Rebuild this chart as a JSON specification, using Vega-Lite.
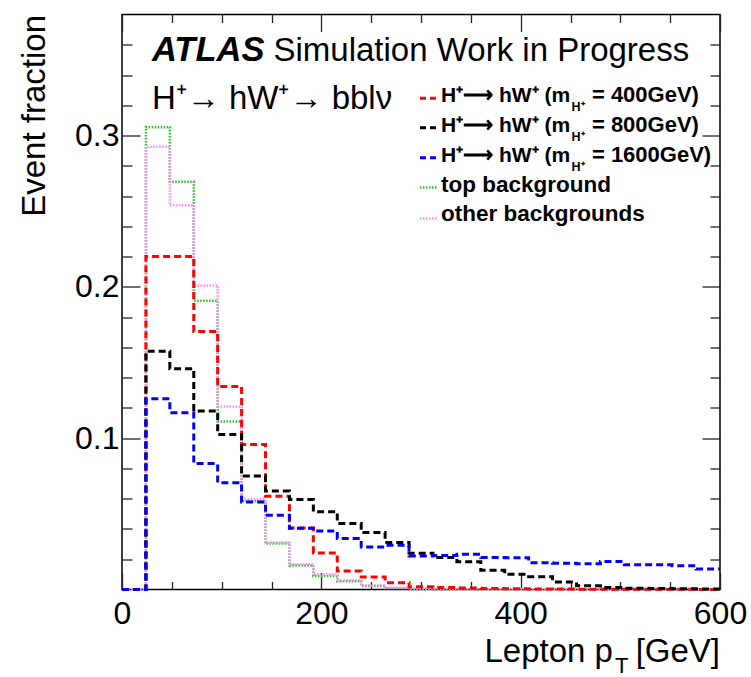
{
"$schema": "https://vega.github.io/schema/vega-lite/v6.json",
"width": 598, "height": 575,
"autosize": {"type": "none"},
"padding": {"left": 122, "top": 14.5, "right": 31, "bottom": 87.5},
"background": "white",
"config": {"view": {"stroke": "black", "strokeWidth": 1.5}, "font": "Liberation Sans", "text": {"color": "black"}},
"datasets": {"h": [
{"s":"top","lo":0,"hi":24,"v":0},{"s":"top","lo":24,"hi":48,"v":0.3055},{"s":"top","lo":48,"hi":72,"v":0.2695},{"s":"top","lo":72,"hi":96,"v":0.1908},{"s":"top","lo":96,"hi":120,"v":0.1111},{"s":"top","lo":120,"hi":144,"v":0.0583},{"s":"top","lo":144,"hi":168,"v":0.0304},{"s":"top","lo":168,"hi":192,"v":0.0158},{"s":"top","lo":192,"hi":216,"v":0.0089},{"s":"top","lo":216,"hi":240,"v":0.0054},{"s":"top","lo":240,"hi":264,"v":0.0023},{"s":"top","lo":264,"hi":288,"v":0.0008},{"s":"top","lo":288,"hi":312,"v":0.0004},{"s":"top","lo":312,"hi":336,"v":0.0002},{"s":"top","lo":336,"hi":360,"v":0.0002},{"s":"top","lo":360,"hi":384,"v":0.0001},{"s":"top","lo":384,"hi":408,"v":0.0001},{"s":"top","lo":408,"hi":432,"v":0},{"s":"top","lo":432,"hi":456,"v":0},{"s":"top","lo":456,"hi":480,"v":0},{"s":"top","lo":480,"hi":504,"v":0},{"s":"top","lo":504,"hi":528,"v":0},{"s":"top","lo":528,"hi":552,"v":0},{"s":"top","lo":552,"hi":576,"v":0},{"s":"top","lo":576,"hi":600,"v":0},
{"s":"other","lo":0,"hi":24,"v":0},{"s":"other","lo":24,"hi":48,"v":0.2926},{"s":"other","lo":48,"hi":72,"v":0.254},{"s":"other","lo":72,"hi":96,"v":0.2009},{"s":"other","lo":96,"hi":120,"v":0.121},{"s":"other","lo":120,"hi":144,"v":0.0596},{"s":"other","lo":144,"hi":168,"v":0.031},{"s":"other","lo":168,"hi":192,"v":0.0167},{"s":"other","lo":192,"hi":216,"v":0.0101},{"s":"other","lo":216,"hi":240,"v":0.006},{"s":"other","lo":240,"hi":264,"v":0.0027},{"s":"other","lo":264,"hi":288,"v":0.0012},{"s":"other","lo":288,"hi":312,"v":0.0006},{"s":"other","lo":312,"hi":336,"v":0.0003},{"s":"other","lo":336,"hi":360,"v":0.0002},{"s":"other","lo":360,"hi":384,"v":0.0001},{"s":"other","lo":384,"hi":408,"v":0.0001},{"s":"other","lo":408,"hi":432,"v":0},{"s":"other","lo":432,"hi":456,"v":0},{"s":"other","lo":456,"hi":480,"v":0},{"s":"other","lo":480,"hi":504,"v":0},{"s":"other","lo":504,"hi":528,"v":0},{"s":"other","lo":528,"hi":552,"v":0},{"s":"other","lo":552,"hi":576,"v":0},{"s":"other","lo":576,"hi":600,"v":0},
{"s":"m400","lo":0,"hi":24,"v":0},{"s":"m400","lo":24,"hi":48,"v":0.22},{"s":"m400","lo":48,"hi":72,"v":0.22},{"s":"m400","lo":72,"hi":96,"v":0.1705},{"s":"m400","lo":96,"hi":120,"v":0.1342},{"s":"m400","lo":120,"hi":144,"v":0.0958},{"s":"m400","lo":144,"hi":168,"v":0.0616},{"s":"m400","lo":168,"hi":192,"v":0.0406},{"s":"m400","lo":192,"hi":216,"v":0.0242},{"s":"m400","lo":216,"hi":240,"v":0.0122},{"s":"m400","lo":240,"hi":264,"v":0.0082},{"s":"m400","lo":264,"hi":288,"v":0.0045},{"s":"m400","lo":288,"hi":312,"v":0.0018},{"s":"m400","lo":312,"hi":336,"v":0.0013},{"s":"m400","lo":336,"hi":360,"v":0.001},{"s":"m400","lo":360,"hi":384,"v":0.0007},{"s":"m400","lo":384,"hi":408,"v":0.0005},{"s":"m400","lo":408,"hi":432,"v":0.0004},{"s":"m400","lo":432,"hi":456,"v":0.0003},{"s":"m400","lo":456,"hi":480,"v":0.0002},{"s":"m400","lo":480,"hi":504,"v":0.0002},{"s":"m400","lo":504,"hi":528,"v":0.0001},{"s":"m400","lo":528,"hi":552,"v":0.0001},{"s":"m400","lo":552,"hi":576,"v":0.0001},{"s":"m400","lo":576,"hi":600,"v":0},
{"s":"m800","lo":0,"hi":24,"v":0},{"s":"m800","lo":24,"hi":48,"v":0.1575},{"s":"m800","lo":48,"hi":72,"v":0.1459},{"s":"m800","lo":72,"hi":96,"v":0.1179},{"s":"m800","lo":96,"hi":120,"v":0.1024},{"s":"m800","lo":120,"hi":144,"v":0.075},{"s":"m800","lo":144,"hi":168,"v":0.0651},{"s":"m800","lo":168,"hi":192,"v":0.0595},{"s":"m800","lo":192,"hi":216,"v":0.0514},{"s":"m800","lo":216,"hi":240,"v":0.0436},{"s":"m800","lo":240,"hi":264,"v":0.0377},{"s":"m800","lo":264,"hi":288,"v":0.031},{"s":"m800","lo":288,"hi":312,"v":0.024},{"s":"m800","lo":312,"hi":336,"v":0.0211},{"s":"m800","lo":336,"hi":360,"v":0.0184},{"s":"m800","lo":360,"hi":384,"v":0.0127},{"s":"m800","lo":384,"hi":408,"v":0.01},{"s":"m800","lo":408,"hi":432,"v":0.0085},{"s":"m800","lo":432,"hi":456,"v":0.005},{"s":"m800","lo":456,"hi":480,"v":0.0025},{"s":"m800","lo":480,"hi":504,"v":0.0013},{"s":"m800","lo":504,"hi":528,"v":0.0008},{"s":"m800","lo":528,"hi":552,"v":0.0006},{"s":"m800","lo":552,"hi":576,"v":0.0005},{"s":"m800","lo":576,"hi":600,"v":0.0004},
{"s":"m1600","lo":0,"hi":24,"v":0},{"s":"m1600","lo":24,"hi":48,"v":0.126},{"s":"m1600","lo":48,"hi":72,"v":0.1168},{"s":"m1600","lo":72,"hi":96,"v":0.0832},{"s":"m1600","lo":96,"hi":120,"v":0.0705},{"s":"m1600","lo":120,"hi":144,"v":0.0578},{"s":"m1600","lo":144,"hi":168,"v":0.049},{"s":"m1600","lo":168,"hi":192,"v":0.0405},{"s":"m1600","lo":192,"hi":216,"v":0.0387},{"s":"m1600","lo":216,"hi":240,"v":0.0337},{"s":"m1600","lo":240,"hi":264,"v":0.0281},{"s":"m1600","lo":264,"hi":288,"v":0.0292},{"s":"m1600","lo":288,"hi":312,"v":0.0221},{"s":"m1600","lo":312,"hi":336,"v":0.0225},{"s":"m1600","lo":336,"hi":360,"v":0.0233},{"s":"m1600","lo":360,"hi":384,"v":0.0211},{"s":"m1600","lo":384,"hi":408,"v":0.021},{"s":"m1600","lo":408,"hi":432,"v":0.0177},{"s":"m1600","lo":432,"hi":456,"v":0.0174},{"s":"m1600","lo":456,"hi":480,"v":0.0171},{"s":"m1600","lo":480,"hi":504,"v":0.0185},{"s":"m1600","lo":504,"hi":528,"v":0.0163},{"s":"m1600","lo":528,"hi":552,"v":0.0163},{"s":"m1600","lo":552,"hi":576,"v":0.0157},{"s":"m1600","lo":576,"hi":600,"v":0.0136}
]},
"layer": [
 {"data": {"name": "h"},
  "transform": [{"filter": "datum.s === 'top'"}, {"fold": ["lo", "hi"], "as": ["k", "edge"]}],
  "mark": {"type": "line", "stroke": "#33bb33", "strokeWidth": 2.5, "strokeDash": [1.5, 1.5]},
  "encoding": {
   "x": {"field": "edge", "type": "quantitative", "scale": {"domain": [0, 600], "nice": false, "zero": false},
    "axis": {"orient": "bottom", "values": [0,50,100,150,200,250,300,350,400,450,500,550,600], "format": "d",
     "labelExpr": "datum.value % 200 === 0 ? datum.label : ''",
     "tickSize": {"condition": {"test": "datum.value % 200 === 0", "value": -17}, "value": -8},
     "tickColor": "#222222", "tickWidth": 1.3, "labelFontSize": 32, "labelFont": "Liberation Sans", "labelColor": "black",
     "labelPadding": 26, "labelFlush": false, "labelOverlap": false, "labelBound": false, "domain": false, "grid": false, "title": null}},
   "y": {"field": "v", "type": "quantitative", "scale": {"domain": [0, 0.38], "nice": false},
    "axis": {"orient": "left", "values": [0.02,0.04,0.06,0.08,0.1,0.12,0.14,0.16,0.18,0.2,0.22,0.24,0.26,0.28,0.3,0.32,0.34,0.36],
     "labelExpr": "abs(datum.value*10 - round(datum.value*10)) < 1e-6 ? format(datum.value, '.1f') : ''",
     "tickSize": {"condition": {"test": "abs(datum.value*10 - round(datum.value*10)) < 1e-6", "value": -18}, "value": -10},
     "tickColor": "#222222", "tickWidth": 1.3, "labelFontSize": 32, "labelFont": "Liberation Sans", "labelColor": "black",
     "labelPadding": 21, "labelOverlap": false, "labelBound": false, "domain": false, "grid": false,
     "title": "Event fraction", "titleFont": "Liberation Sans", "titleFontSize": 33, "titleFontWeight": "normal", "titleColor": "black",
     "titleAngle": -90, "titleAlign": "right", "titleBaseline": "middle", "titleAnchor": "end", "titleX": -88, "titleY": 0}},
   "order": [{"field": "edge", "type": "quantitative"}, {"field": "k", "type": "nominal"}]}},
 {"data": {"name": "h"},
  "transform": [{"filter": "datum.s === 'other'"}, {"fold": ["lo", "hi"], "as": ["k", "edge"]}],
  "mark": {"type": "line", "stroke": "#ff88ff", "strokeWidth": 2.5, "strokeDash": [1.5, 1.5]},
  "encoding": {
   "x": {"field": "edge", "type": "quantitative", "scale": {"domain": [0, 600], "nice": false, "zero": false}, "axis": null},
   "y": {"field": "v", "type": "quantitative", "scale": {"domain": [0, 0.38], "nice": false}, "axis": null},
   "order": [{"field": "edge", "type": "quantitative"}, {"field": "k", "type": "nominal"}]}},
 {"data": {"name": "h"},
  "transform": [{"filter": "datum.s === 'm400'"}, {"fold": ["lo", "hi"], "as": ["k", "edge"]}],
  "mark": {"type": "line", "stroke": "#ff0000", "strokeWidth": 3, "strokeDash": [7, 4]},
  "encoding": {
   "x": {"field": "edge", "type": "quantitative", "scale": {"domain": [0, 600], "nice": false, "zero": false}, "axis": null},
   "y": {"field": "v", "type": "quantitative", "scale": {"domain": [0, 0.38], "nice": false}, "axis": null},
   "order": [{"field": "edge", "type": "quantitative"}, {"field": "k", "type": "nominal"}]}},
 {"data": {"name": "h"},
  "transform": [{"filter": "datum.s === 'm800'"}, {"fold": ["lo", "hi"], "as": ["k", "edge"]}],
  "mark": {"type": "line", "stroke": "#000000", "strokeWidth": 3, "strokeDash": [7, 4]},
  "encoding": {
   "x": {"field": "edge", "type": "quantitative", "scale": {"domain": [0, 600], "nice": false, "zero": false}, "axis": null},
   "y": {"field": "v", "type": "quantitative", "scale": {"domain": [0, 0.38], "nice": false}, "axis": null},
   "order": [{"field": "edge", "type": "quantitative"}, {"field": "k", "type": "nominal"}]}},
 {"data": {"name": "h"},
  "transform": [{"filter": "datum.s === 'm1600'"}, {"fold": ["lo", "hi"], "as": ["k", "edge"]}],
  "mark": {"type": "line", "stroke": "#0000ff", "strokeWidth": 3, "strokeDash": [7, 4]},
  "encoding": {
   "x": {"field": "edge", "type": "quantitative", "scale": {"domain": [0, 600], "nice": false, "zero": false}, "axis": null},
   "y": {"field": "v", "type": "quantitative", "scale": {"domain": [0, 0.38], "nice": false}, "axis": null},
   "order": [{"field": "edge", "type": "quantitative"}, {"field": "k", "type": "nominal"}]}},

 {"data": {"values": [{}]}, "mark": {"type": "text", "text": "ATLAS", "fontSize": 34.5, "fontWeight": "bold", "fontStyle": "italic", "align": "left", "baseline": "alphabetic"},
  "encoding": {"x": {"datum": 30.1, "type": "quantitative", "scale": {"domain": [0, 600], "nice": false, "zero": false}, "axis": null}, "y": {"datum": 0.3494, "type": "quantitative", "scale": {"domain": [0, 0.38], "nice": false}, "axis": null}}},
 {"data": {"values": [{}]}, "mark": {"type": "text", "text": "Simulation Work in Progress", "fontSize": 33, "align": "left", "baseline": "alphabetic"},
  "encoding": {"x": {"datum": 152.0, "type": "quantitative", "scale": {"domain": [0, 600], "nice": false, "zero": false}, "axis": null}, "y": {"datum": 0.3494, "type": "quantitative", "scale": {"domain": [0, 0.38], "nice": false}, "axis": null}}},
 {"data": {"values": [{}]}, "mark": {"type": "text", "text": "H⁺→ hW⁺→ bblν", "fontSize": 33, "align": "left", "baseline": "alphabetic"},
  "encoding": {"x": {"datum": 30.1, "type": "quantitative", "scale": {"domain": [0, 600], "nice": false, "zero": false}, "axis": null}, "y": {"datum": 0.3174, "type": "quantitative", "scale": {"domain": [0, 0.38], "nice": false}, "axis": null}}},

 {"data": {"values": [{}]}, "mark": {"type": "rule", "stroke": "#ff0000", "strokeWidth": 3, "strokeDash": [6, 4]},
  "encoding": {"x": {"datum": 299, "type": "quantitative", "scale": {"domain": [0, 600], "nice": false, "zero": false}, "axis": null}, "x2": {"datum": 315}, "y": {"datum": 0.3246, "type": "quantitative", "scale": {"domain": [0, 0.38], "nice": false}, "axis": null}}},
 {"data": {"values": [{}]}, "mark": {"type": "rule", "stroke": "#000000", "strokeWidth": 3, "strokeDash": [6, 4]},
  "encoding": {"x": {"datum": 299, "type": "quantitative", "scale": {"domain": [0, 600], "nice": false, "zero": false}, "axis": null}, "x2": {"datum": 315}, "y": {"datum": 0.3052, "type": "quantitative", "scale": {"domain": [0, 0.38], "nice": false}, "axis": null}}},
 {"data": {"values": [{}]}, "mark": {"type": "rule", "stroke": "#0000ff", "strokeWidth": 3, "strokeDash": [6, 4]},
  "encoding": {"x": {"datum": 299, "type": "quantitative", "scale": {"domain": [0, 600], "nice": false, "zero": false}, "axis": null}, "x2": {"datum": 315}, "y": {"datum": 0.2854, "type": "quantitative", "scale": {"domain": [0, 0.38], "nice": false}, "axis": null}}},
 {"data": {"values": [{}]}, "mark": {"type": "rule", "stroke": "#33bb33", "strokeWidth": 2.5, "strokeDash": [1.5, 1.5]},
  "encoding": {"x": {"datum": 299, "type": "quantitative", "scale": {"domain": [0, 600], "nice": false, "zero": false}, "axis": null}, "x2": {"datum": 317}, "y": {"datum": 0.2657, "type": "quantitative", "scale": {"domain": [0, 0.38], "nice": false}, "axis": null}}},
 {"data": {"values": [{}]}, "mark": {"type": "rule", "stroke": "#ff88ff", "strokeWidth": 2.5, "strokeDash": [1.5, 1.5]},
  "encoding": {"x": {"datum": 299, "type": "quantitative", "scale": {"domain": [0, 600], "nice": false, "zero": false}, "axis": null}, "x2": {"datum": 317}, "y": {"datum": 0.2452, "type": "quantitative", "scale": {"domain": [0, 0.38], "nice": false}, "axis": null}}},

 {"data": {"values": [{"t": "H⁺⟶ hW⁺ (m", "y": 0.322}, {"t": "H⁺⟶ hW⁺ (m", "y": 0.3022}, {"t": "H⁺⟶ hW⁺ (m", "y": 0.2824}]},
  "mark": {"type": "text", "fontSize": 21, "fontWeight": "bold", "align": "left", "baseline": "alphabetic"},
  "encoding": {"x": {"datum": 320.1, "type": "quantitative", "scale": {"domain": [0, 600], "nice": false, "zero": false}, "axis": null}, "y": {"field": "y", "type": "quantitative", "scale": {"domain": [0, 0.38], "nice": false}, "axis": null}, "text": {"field": "t"}}},
 {"data": {"values": [{"t": "top background", "y": 0.2624}, {"t": "other backgrounds", "y": 0.2433}]},
  "mark": {"type": "text", "fontSize": 22.5, "fontWeight": "bold", "align": "left", "baseline": "alphabetic"},
  "encoding": {"x": {"datum": 320.1, "type": "quantitative", "scale": {"domain": [0, 600], "nice": false, "zero": false}, "axis": null}, "y": {"field": "y", "type": "quantitative", "scale": {"domain": [0, 0.38], "nice": false}, "axis": null}, "text": {"field": "t"}}},
 {"data": {"values": [{"t": "H⁺", "y": 0.3162}, {"t": "H⁺", "y": 0.2964}, {"t": "H⁺", "y": 0.2766}]},
  "mark": {"type": "text", "fontSize": 12.5, "fontWeight": "bold", "align": "left", "baseline": "alphabetic"},
  "encoding": {"x": {"datum": 451, "type": "quantitative", "scale": {"domain": [0, 600], "nice": false, "zero": false}, "axis": null}, "y": {"field": "y", "type": "quantitative", "scale": {"domain": [0, 0.38], "nice": false}, "axis": null}, "text": {"field": "t"}}},
 {"data": {"values": [{"t": "= 400GeV)", "y": 0.322}, {"t": "= 800GeV)", "y": 0.3022}, {"t": "= 1600GeV)", "y": 0.2824}]},
  "mark": {"type": "text", "fontSize": 22, "fontWeight": "bold", "align": "left", "baseline": "alphabetic"},
  "encoding": {"x": {"datum": 471.5, "type": "quantitative", "scale": {"domain": [0, 600], "nice": false, "zero": false}, "axis": null}, "y": {"field": "y", "type": "quantitative", "scale": {"domain": [0, 0.38], "nice": false}, "axis": null}, "text": {"field": "t"}}},

 {"data": {"values": [{}]}, "mark": {"type": "text", "text": "Lepton p", "fontSize": 33, "align": "right", "baseline": "alphabetic"},
  "encoding": {"x": {"datum": 492.6, "type": "quantitative", "scale": {"domain": [0, 600], "nice": false, "zero": false}, "axis": null}, "y": {"datum": -0.048, "type": "quantitative", "scale": {"domain": [0, 0.38], "nice": false}, "axis": null}}},
 {"data": {"values": [{}]}, "mark": {"type": "text", "text": "T", "fontSize": 22, "align": "left", "baseline": "alphabetic"},
  "encoding": {"x": {"datum": 494.6, "type": "quantitative", "scale": {"domain": [0, 600], "nice": false, "zero": false}, "axis": null}, "y": {"datum": -0.0552, "type": "quantitative", "scale": {"domain": [0, 0.38], "nice": false}, "axis": null}}},
 {"data": {"values": [{}]}, "mark": {"type": "text", "text": "[GeV]", "fontSize": 33, "align": "right", "baseline": "alphabetic"},
  "encoding": {"x": {"datum": 600, "type": "quantitative", "scale": {"domain": [0, 600], "nice": false, "zero": false}, "axis": null}, "y": {"datum": -0.048, "type": "quantitative", "scale": {"domain": [0, 0.38], "nice": false}, "axis": null}}},

 {"data": {"name": "h"},
  "mark": {"type": "point", "opacity": 0},
  "encoding": {
   "x": {"field": "lo", "type": "quantitative", "scale": {"domain": [0, 600], "nice": false, "zero": false},
    "axis": {"orient": "top", "values": [0,50,100,150,200,250,300,350,400,450,500,550,600], "labels": false,
     "tickSize": {"condition": {"test": "datum.value % 200 === 0", "value": -17}, "value": -8},
     "tickColor": "#222222", "tickWidth": 1.3, "domain": false, "grid": false, "title": null}},
   "y": {"field": "v", "type": "quantitative", "scale": {"domain": [0, 0.38], "nice": false},
    "axis": {"orient": "right", "values": [0.02,0.04,0.06,0.08,0.1,0.12,0.14,0.16,0.18,0.2,0.22,0.24,0.26,0.28,0.3,0.32,0.34,0.36], "labels": false,
     "tickSize": {"condition": {"test": "abs(datum.value*10 - round(datum.value*10)) < 1e-6", "value": -18}, "value": -10},
     "tickColor": "#222222", "tickWidth": 1.3, "domain": false, "grid": false, "title": null}}}}
],
"resolve": {"axis": {"x": "independent", "y": "independent"}}
}
